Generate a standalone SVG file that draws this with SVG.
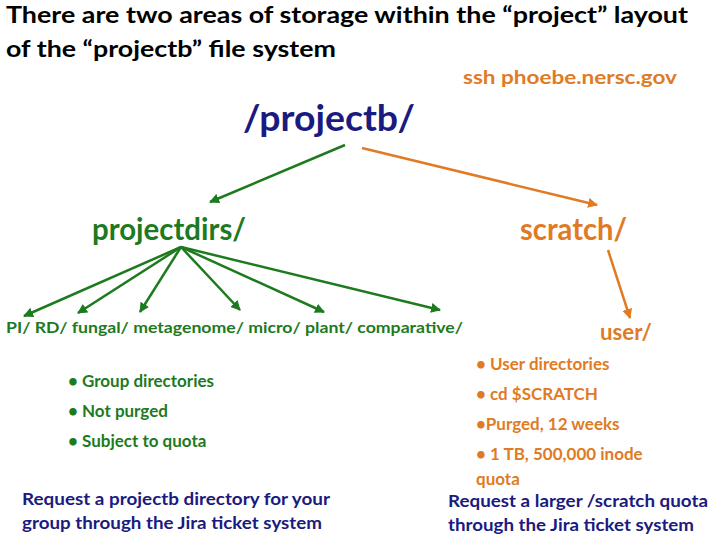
<svg xmlns="http://www.w3.org/2000/svg" width="720" height="540" viewBox="0 0 720 540">
<style>
text{font-family:Lato,"Open Sans",sans-serif;font-weight:bold}
.g{fill:#1e7a1e}.o{fill:#e07b24}.b{fill:#1a1a80}
.lg{stroke:#1e7a1e;stroke-width:2.5;fill:none;marker-end:url(#ag)}
.lo{stroke:#e07b24;stroke-width:2.5;fill:none;marker-end:url(#ao)}
</style>
<defs>
<marker id="ag" viewBox="0 0 10 10" refX="9" refY="5" markerWidth="4" markerHeight="4" orient="auto"><path d="M0,0L10,5L0,10z" fill="#1e7a1e"/></marker>
<marker id="ao" viewBox="0 0 10 10" refX="9" refY="5" markerWidth="4" markerHeight="4" orient="auto"><path d="M0,0L10,5L0,10z" fill="#e07b24"/></marker>
</defs>
<rect width="720" height="540" fill="#fff"/>
<g id="title" font-size="23"><text x="6" y="23" textLength="682" lengthAdjust="spacingAndGlyphs">There are two areas of storage within the “project”  layout</text><text x="6" y="57" textLength="330" lengthAdjust="spacingAndGlyphs">of the “projectb” file system</text></g>
<g id="ssh"><text x="463" y="84" font-size="19" class="o" textLength="214" lengthAdjust="spacingAndGlyphs">ssh phoebe.nersc.gov</text></g>
<g id="projectb"><text x="243" y="131" font-size="36" class="b" textLength="172" lengthAdjust="spacingAndGlyphs">/projectb/</text></g>
<g id="projectdirs"><text x="92" y="240" font-size="30" class="g" textLength="154" lengthAdjust="spacingAndGlyphs">projectdirs/</text></g>
<g id="scratch"><text x="520" y="240" font-size="30" class="o" textLength="107" lengthAdjust="spacingAndGlyphs">scratch/</text></g>
<g id="subdirs" font-size="15" class="g"><text x="6" y="333" textLength="457" lengthAdjust="spacingAndGlyphs">PI/  RD/  fungal/  metagenome/  micro/  plant/ comparative/</text></g>
<g id="user"><text x="600" y="340" font-size="22" class="o" textLength="52" lengthAdjust="spacingAndGlyphs">user/</text></g>
<g id="connectors">
<line class="lg" x1="345" y1="145" x2="210" y2="202"/>
<line class="lo" x1="362" y1="148" x2="597" y2="205"/>
<line class="lg" x1="181" y1="247" x2="24" y2="316"/>
<line class="lg" x1="181" y1="247" x2="78" y2="313"/>
<line class="lg" x1="181" y1="247" x2="140" y2="312"/>
<line class="lg" x1="181" y1="247" x2="240" y2="310"/>
<line class="lg" x1="181" y1="247" x2="324" y2="312"/>
<line class="lg" x1="181" y1="247" x2="440" y2="310"/>
<line class="lo" x1="608" y1="250" x2="630" y2="318"/>
</g>
<g id="projnotes" font-size="17" class="g">
<text x="68" y="387">•  Group directories</text>
<text x="68" y="417">•  Not purged</text>
<text x="68" y="447">•  Subject to quota</text>
</g>
<g id="projreq" font-size="17" class="b"><text x="22" y="505" textLength="308" lengthAdjust="spacingAndGlyphs">Request a projectb directory for your</text><text x="22" y="529" textLength="300" lengthAdjust="spacingAndGlyphs">group through the Jira ticket system</text></g>
<g id="scratchnotes" font-size="17" class="o">
<text x="476" y="370">• User directories</text>
<text x="476" y="400">• cd $SCRATCH</text>
<text x="476" y="430">•Purged, 12 weeks</text>
<text x="476" y="460">• 1 TB, 500,000 inode</text>
<text x="476" y="485">quota</text>
</g>
<g id="scratchreq" font-size="17" class="b"><text x="448" y="507" textLength="260" lengthAdjust="spacingAndGlyphs">Request a larger /scratch quota</text><text x="448" y="531" textLength="246" lengthAdjust="spacingAndGlyphs">through the Jira ticket system</text></g>
</svg>
